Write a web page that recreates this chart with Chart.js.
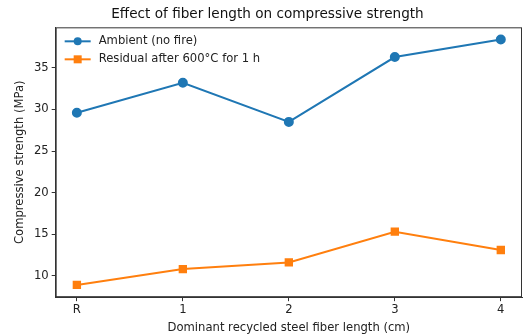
<!DOCTYPE html>
<html lang="en">
<head>
  <meta charset="UTF-8">
  <title>Effect of fiber length on compressive strength</title>
  <script src="https://cdn.jsdelivr.net/npm/chart.js"></script>
  <style>
    html, body { margin: 0; padding: 0; background: #fff; }
    #wrap { width: 532px; height: 335px; }
  </style>
</head>
<body>
  <div id="wrap"><canvas id="lineChart"></canvas></div>

  <script>
    // Values
    const categories = ['R', '1', '2', '3', '4'];
    const ambient = [29.6, 33.2, 28.5, 36.3, 38.4];
    const residual = [8.9, 10.8, 11.6, 15.3, 13.1];
    const yTicks = [10, 15, 20, 25, 30, 35];

    const FONT = 'DejaVu Sans';
    const SIZE = 11.6;
    Chart.defaults.font.family = FONT;
    Chart.defaults.color = '#222';

    // Legend inside the plot, matplotlib style (line through the marker)
    const innerLegend = {
      id: 'innerLegend',
      afterDraw(chart) {
        const ctx = chart.ctx;
        const area = chart.chartArea;
        // frame on all four sides
        ctx.save();
        ctx.strokeStyle = '#333';
        ctx.lineWidth = 1;
        ctx.strokeRect(area.left + 0.5, area.top + 0.5, area.right - area.left - 1, area.bottom - area.top - 1);

        chart.data.datasets.forEach((ds, i) => {
          const y = area.top + 14 + i * 18;
          const x0 = area.left + 9;
          ctx.strokeStyle = ds.borderColor;
          ctx.lineWidth = 2;
          ctx.beginPath();
          ctx.moveTo(x0, y);
          ctx.lineTo(x0 + 26, y);
          ctx.stroke();
          ctx.fillStyle = ds.backgroundColor;
          if (ds.pointStyle === 'rect') {
            ctx.fillRect(x0 + 13 - 4, y - 4, 8, 8);
          } else {
            ctx.beginPath();
            ctx.arc(x0 + 13, y, 4, 0, Math.PI * 2);
            ctx.fill();
          }
          ctx.fillStyle = '#222';
          ctx.font = SIZE + 'px "' + FONT + '"';
          ctx.textBaseline = 'middle';
          ctx.fillText(ds.label, x0 + 34, y);
        });
        ctx.restore();
      }
    };

    new Chart(document.getElementById('lineChart').getContext('2d'), {
      type: 'line',
      data: {
        datasets: [{
          label: 'Ambient (no fire)',
          data: ambient.map((v, i) => ({ x: i, y: v })),
          borderColor: '#1f77b4',
          backgroundColor: '#1f77b4',
          borderWidth: 2,
          pointStyle: 'circle',
          pointRadius: 4,
          pointHoverRadius: 4,
        }, {
          label: 'Residual after 600°C for 1 h',
          data: residual.map((v, i) => ({ x: i, y: v })),
          borderColor: '#ff7f0e',
          backgroundColor: '#ff7f0e',
          borderWidth: 2,
          pointStyle: 'rect',
          pointRadius: 4.5,
          pointHoverRadius: 4.5,
        }],
      },
      options: {
        responsive: true,
        maintainAspectRatio: false,
        animation: false,
        layout: { padding: { left: 13, right: 10, top: 4, bottom: 0 } },
        plugins: {
          legend: { display: false },
          tooltip: { enabled: false },
          title: {
            display: true,
            text: 'Effect of fiber length on compressive strength',
            color: '#111',
            font: { size: 13.6, weight: 'normal' },
            padding: { top: 2, bottom: 5 },
          },
        },
        scales: {
          x: {
            type: 'linear',
            min: -0.2,
            max: categories.length - 1 + 0.2,
            afterBuildTicks: scale => {
              scale.ticks = categories.map((_, i) => ({ value: i }));
            },
            ticks: {
              callback: value => categories[value],
              font: { size: SIZE },
              color: '#222',
              padding: 2,
              maxRotation: 0,
            },
            grid: { drawOnChartArea: false, drawTicks: true, tickLength: 4, color: '#333' },
            border: { display: true, color: '#333' },
            title: {
              display: true,
              text: 'Dominant recycled steel fiber length (cm)',
              font: { size: SIZE },
              color: '#222',
              padding: { top: 2, bottom: 0 },
            },
          },
          y: {
            min: 7.425,
            max: 39.875,
            afterBuildTicks: scale => {
              scale.ticks = yTicks.map(v => ({ value: v }));
            },
            ticks: {
              font: { size: SIZE },
              color: '#222',
              padding: 3,
            },
            grid: { drawOnChartArea: false, drawTicks: true, tickLength: 4, color: '#333' },
            border: { display: true, color: '#333' },
            title: {
              display: true,
              text: 'Compressive strength (MPa)',
              font: { size: SIZE },
              color: '#222',
              padding: { top: 0, bottom: 4 },
            },
          },
        },
      },
      plugins: [innerLegend],
    });
  </script>
</body>
</html>
